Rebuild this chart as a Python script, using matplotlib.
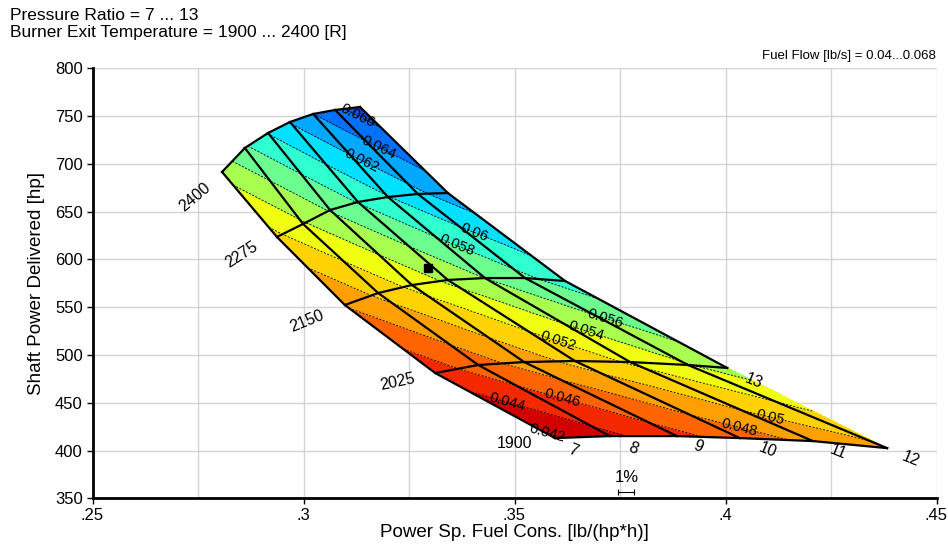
import numpy as np
import matplotlib
matplotlib.use("Agg")
import matplotlib.pyplot as plt
import matplotlib.tri as mtri

plt.rcParams['font.family'] = ['Liberation Sans', 'DejaVu Sans']

# ---------------- data ----------------
pressure_ratios = [7, 8, 9, 10, 11, 12, 13]
burner_temps = [2400, 2275, 2150, 2025, 1900]

# power specific fuel consumption [lb/(hp*h)] along each temperature line, PR 7..13
psfc_2400 = [0.2807, 0.2861, 0.2916, 0.2968, 0.3023, 0.3075, 0.3134]
psfc_2275 = [0.2937, 0.2999, 0.3063, 0.3129, 0.3200, 0.3271, 0.3342]
psfc_2150 = [0.3098, 0.3177, 0.3257, 0.3342, 0.3430, 0.3525, 0.3620]
psfc_2025 = [0.3312, 0.3414, 0.3523, 0.3643, 0.3774, 0.3911, 0.4004]
psfc_1900 = [0.3596, 0.3726, 0.3885, 0.4034, 0.4207, 0.4383, np.nan]

# shaft power delivered [hp]
power_2400 = [691.5, 716.6, 732.3, 743.8, 752.2, 756.4, 759.5]
power_2275 = [623.5, 637.1, 651.7, 660.1, 665.3, 668.5, 669.5]
power_2150 = [552.3, 564.8, 573.2, 578.5, 580.5, 580.5, 577.4]
power_2025 = [481.1, 489.5, 492.6, 493.7, 492.6, 489.5, 486.4]
power_1900 = [413.0, 415.1, 415.1, 413.0, 409.9, 402.5, np.nan]

# fuel flow [lb/s]
fuel_2400 = [0.05462, 0.05769, 0.06009, 0.06212, 0.06399, 0.06545, 0.06698]
fuel_2275 = [0.05153, 0.05377, 0.05617, 0.05812, 0.05991, 0.06153, 0.06296]
fuel_2150 = [0.04815, 0.05049, 0.05253, 0.05440, 0.05603, 0.05758, 0.05882]
fuel_2025 = [0.04484, 0.04703, 0.04883, 0.05061, 0.05231, 0.05387, 0.05480]
fuel_1900 = [0.04179, 0.04352, 0.04538, 0.04688, 0.04852, 0.04964, np.nan]

fuel_levels = [0.040, 0.042, 0.044, 0.046, 0.048, 0.050, 0.052, 0.054,
               0.056, 0.058, 0.060, 0.062, 0.064, 0.066, 0.068]
line_levels = fuel_levels[1:-1]

band_colors = ['#b40000', '#d20000', '#f52800', '#ff6400', '#ffa000', '#ffd200',
               '#f0ff10', '#a8ff50', '#6cff90', '#30ffd0', '#00e0ff', '#00a8ff',
               '#0070ff', '#1448e0']

design_point_psfc = [0.3295]
design_point_power = [591.3]

x_ticks = [0.25, 0.30, 0.35, 0.40, 0.45]
x_tick_labels = ['.25', '.3', '.35', '.4', '.45']
y_ticks = [350, 400, 450, 500, 550, 600, 650, 700, 750, 800]

# ---------------- figure ----------------
X = np.array([psfc_2400, psfc_2275, psfc_2150, psfc_2025, psfc_1900])
Y = np.array([power_2400, power_2275, power_2150, power_2025, power_1900])
Z = np.array([fuel_2400, fuel_2275, fuel_2150, fuel_2025, fuel_1900])
nT, nP = X.shape

fig = plt.figure(figsize=(9.48, 5.45), dpi=100)
ax = fig.add_axes([92.5 / 948, 1 - 498.3 / 545, (936.5 - 92.5) / 948, (498.3 - 68.3) / 545])

# triangulation of the carpet
valid = ~np.isnan(X)
idx = -np.ones(X.shape, dtype=int)
idx[valid] = np.arange(valid.sum())
tris = []
for i in range(nT - 1):
    for j in range(nP - 1):
        a, b, c, d = idx[i, j], idx[i, j + 1], idx[i + 1, j + 1], idx[i + 1, j]
        if min(a, b, c, d) >= 0:
            tris += [[a, b, c], [a, c, d]]
        elif min(a, b, d) >= 0:
            tris += [[a, b, d]]
tri = mtri.Triangulation(X[valid], Y[valid], np.array(tris))
refiner = mtri.UniformTriRefiner(tri)
tri_f, z_f = refiner.refine_field(Z[valid], subdiv=3,
                                  triinterpolator=mtri.LinearTriInterpolator(tri, Z[valid]))

ax.tricontourf(tri_f, z_f, levels=fuel_levels, colors=band_colors, zorder=2)
cs = ax.tricontour(tri_f, z_f, levels=line_levels, colors='black',
                   linewidths=0.6, linestyles='--', zorder=3)
cs.set_linestyle([(0, (2.5, 1.8))])

label_pos = [(0.3127, 750.0), (0.3177, 717.5), (0.3139, 704.0), (0.3405, 627.6),
             (0.3362, 613.0), (0.3714, 537.0), (0.3667, 523.0), (0.3603, 512.5),
             (0.4105, 432.0), (0.4032, 421.6), (0.3613, 453.0), (0.3482, 448.7),
             (0.3572, 416.0)]


def fmt_label(v):
    s = '%.3f' % v
    return s.rstrip('0')


try:
    ax.clabel(cs, manual=label_pos, inline=False, fontsize=10.5, fmt=fmt_label)
except Exception:
    pass

# carpet lines
for i in range(nT):
    ax.plot(X[i], Y[i], color='black', lw=1.6, zorder=4)
for j in range(nP):
    ax.plot(X[:, j], Y[:, j], color='black', lw=1.6, zorder=4)

# temperature labels
t_rot = [40, 33, 22, 12, 0]
t_off = [(-27, -25), (-35, -18), (-38, -16), (-38, -9), (-41, -5)]
for i, t in enumerate(burner_temps):
    ax.annotate(str(t), (X[i, 0], Y[i, 0]), xytext=t_off[i], textcoords='offset pixels',
                ha='center', va='center', rotation=t_rot[i], fontsize=11.5, zorder=5)

# pressure ratio labels at the end of each line
pr_off = [(18, -12), (23, -12), (21, -10), (28, -12), (25, -11), (23, -11), (26, -13)]
for j, pr in enumerate(pressure_ratios):
    col = X[:, j]
    k = np.where(~np.isnan(col))[0][-1]
    ax.annotate(str(pr), (X[k, j], Y[k, j]), xytext=pr_off[j], textcoords='offset pixels',
                ha='center', va='center', rotation=-22, fontsize=11.5, zorder=5)

ax.plot(design_point_psfc, design_point_power, 's', color='black', ms=6, zorder=6)

# 1% scale bar
bar_x = 0.3765
ax.errorbar([bar_x], [356.6], xerr=[bar_x * 0.005], color='black', lw=0.8,
            capsize=2.5, capthick=0.8, zorder=5)
ax.text(bar_x, 372, '1%', ha='center', va='center', fontsize=12, zorder=5)

ax.set_xlim(0.25, 0.45)
ax.set_ylim(350, 800)
ax.set_xticks(x_ticks)
ax.set_xticklabels(x_tick_labels)
ax.set_xticks([0.275, 0.325, 0.375, 0.425], minor=True)
ax.set_yticks(y_ticks)
ax.grid(True, which='both', color='#d4d4d4', lw=1.0, zorder=0)
ax.set_axisbelow(True)
for s in ['top', 'right']:
    ax.spines[s].set_visible(False)
for s in ['left', 'bottom']:
    ax.spines[s].set_linewidth(2)
ax.tick_params(axis='both', which='major', labelsize=12, length=4, width=1, pad=3)
ax.tick_params(axis='x', which='minor', length=0)
ax.set_xlabel('Power Sp. Fuel Cons. [lb/(hp*h)]', fontsize=13.5, labelpad=1)
ax.set_ylabel('Shaft Power Delivered [hp]', fontsize=13.5, labelpad=7)

fig.text(10 / 948, 1 - 15 / 545, 'Pressure Ratio = 7 ... 13', fontsize=12.5, va='center')
fig.text(10 / 948, 1 - 33 / 545, 'Burner Exit Temperature = 1900 ... 2400 [R]', fontsize=12.5, va='center')
fig.text(936 / 948, 1 - 56 / 545, 'Fuel Flow [lb/s] = 0.04...0.068', fontsize=9.5,
         ha='right', va='center')

fig.savefig('out.png', dpi=100)
